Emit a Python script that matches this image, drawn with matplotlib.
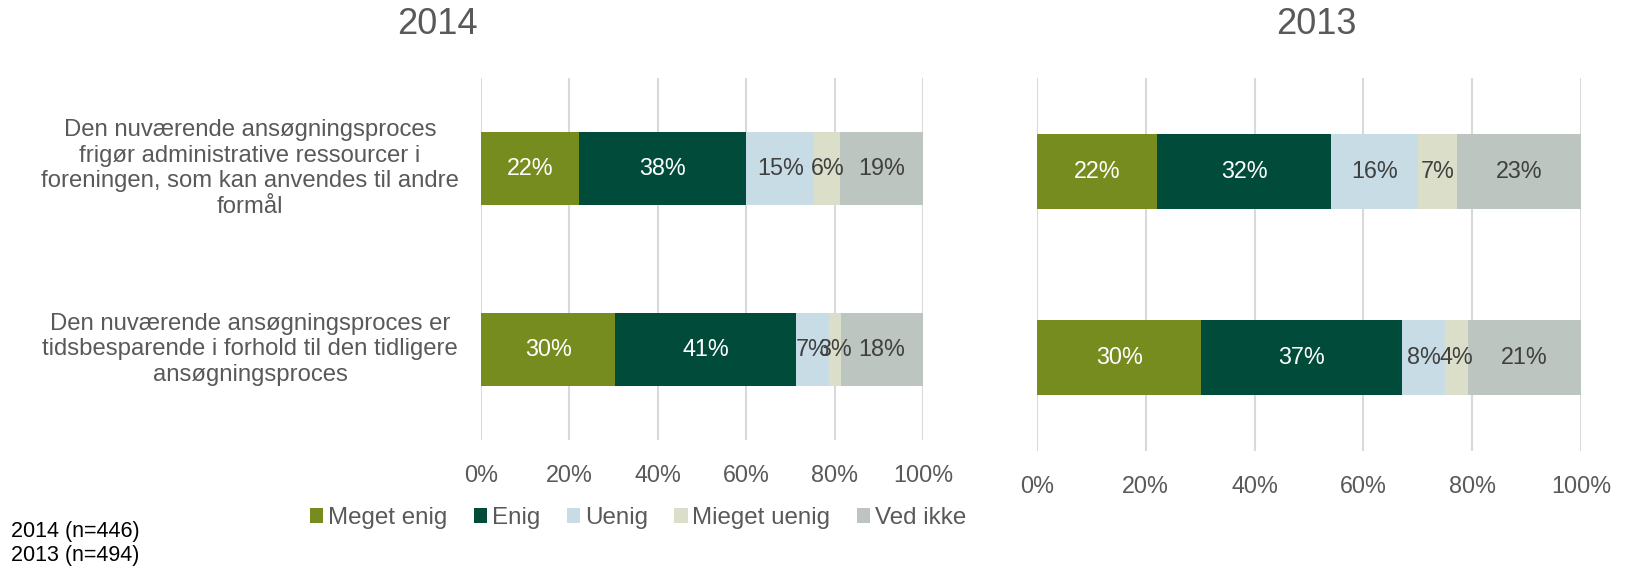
import numpy as np
import matplotlib
matplotlib.use("Agg")
import matplotlib.pyplot as plt
import matplotlib.transforms as mtransforms
from matplotlib.patches import Patch

plt.rcParams['font.family'] = ['Liberation Sans', 'DejaVu Sans']

categories = ["Meget enig", "Enig", "Uenig", "Mieget uenig", "Ved ikke"]
colors = ["#778c1f", "#004b3a", "#c7dce5", "#dbdfca", "#bdc5c0"]
label_colors = ["white", "white", "#404040", "#404040", "#404040"]

statements = [
    "Den nuværende ansøgningsproces\nfrigør administrative ressourcer i\nforeningen, som kan anvendes til andre\nformål",
    "Den nuværende ansøgningsproces er\ntidsbesparende i forhold til den tidligere\nansøgningsproces",
]

# share per statement (rows) and answer (columns), percent
values_2014 = np.array([
    [22.1, 37.9, 15.4, 5.9, 18.6],
    [30.4, 40.9, 7.4, 2.8, 18.4],
])
values_2013 = np.array([
    [22.0, 32.1, 15.9, 7.2, 22.8],
    [30.2, 36.9, 7.9, 4.2, 20.8],
])
footnotes = ["2014 (n=446)", "2013 (n=494)"]

W, H = 1631, 568
fig = plt.figure(figsize=(W / 100, H / 100), dpi=100)

ax1 = fig.add_axes([481 / W, 1 - 440 / H, (923 - 481) / W, (440 - 78) / H])
ax2 = fig.add_axes([1037 / W, 1 - 451 / H, (1581 - 1037) / W, (451 - 78) / H])

grey = "#595959"


def draw(ax, vals):
    y = np.arange(len(vals))
    left = np.zeros(len(vals))
    for j in range(vals.shape[1]):
        ax.barh(y, vals[:, j], left=left, height=0.4, color=colors[j], zorder=3)
        for i in range(len(vals)):
            ax.text(left[i] + vals[i, j] / 2, y[i], "%d%%" % round(vals[i, j]),
                    ha="center", va="center", fontsize=16.8,
                    color=label_colors[j], zorder=4)
        left += vals[:, j]
    ax.set_xlim(0, 100)
    ax.set_ylim(1.5, -0.5)
    ax.set_xticks(np.arange(0, 101, 20))
    ax.set_xticklabels(["%d%%" % t for t in range(0, 101, 20)])
    ax.set_yticks([])
    ax.tick_params(axis="x", length=0, pad=17, labelsize=16.8, labelcolor=grey)
    ax.grid(axis="x", color="#d9d9d9", lw=1.5, zorder=0)
    for s in ax.spines.values():
        s.set_visible(False)


draw(ax1, values_2014)
draw(ax2, values_2013)

trans = mtransforms.blended_transform_factory(fig.transFigure, ax1.transData)
for i, st in enumerate(statements):
    ax1.text(250 / W, i, st, transform=trans, ha="center", va="center",
             multialignment="center", fontsize=17.2, color=grey,
             linespacing=1.2)

fig.text(437 / W, 1 - 24 / H, "2014", ha="center", va="center", fontsize=26, color=grey)
fig.text(1316 / W, 1 - 24 / H, "2013", ha="center", va="center", fontsize=26, color=grey)

handles = [Patch(facecolor=c, edgecolor="none") for c in colors]
fig.legend(handles, categories, loc="center", bbox_to_anchor=(638 / W, 1 - 518 / H),
           ncol=5, frameon=False, fontsize=17.4, handlelength=0.55, handleheight=0.55,
           handletextpad=0.2, columnspacing=1.1, labelcolor=grey)

fig.text(11 / W, 1 - 532 / H, footnotes[0], ha="left", va="center", fontsize=15.5, color="black")
fig.text(11 / W, 1 - 556 / H, footnotes[1], ha="left", va="center", fontsize=15.5, color="black")

fig.savefig("out.png", dpi=100)
